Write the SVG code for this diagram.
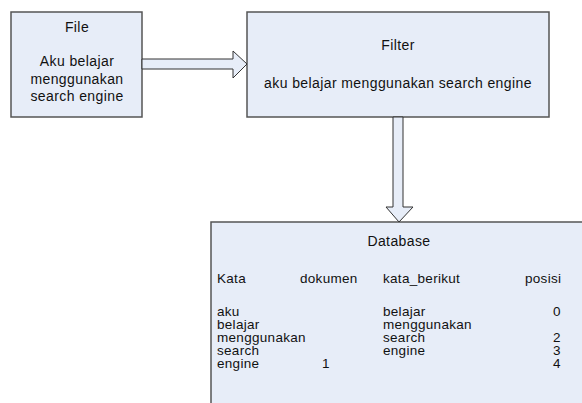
<svg xmlns="http://www.w3.org/2000/svg" width="582" height="403" viewBox="0 0 582 403">
<style>
.box{fill:#E7EDF8;stroke:#555;stroke-width:1.5}
.arrow{fill:#E7EDF8;stroke:#333;stroke-width:1}
text{font-family:"Liberation Sans",Arial,sans-serif;font-size:14px;letter-spacing:0.4px;fill:#111}
.c{text-anchor:middle}
.t{font-size:13.5px;letter-spacing:0.3px}
</style>
<rect width="582" height="403" fill="#fff"/>
<g id="file">
<rect class="box" x="11" y="12" width="131" height="105"/>
<text class="c" x="77" y="32">File</text>
<text class="c" x="77" y="66">Aku belajar</text>
<text class="c" x="77" y="84">menggunakan</text>
<text class="c" x="77" y="101">search engine</text>
</g>
<g id="filter">
<rect class="box" x="247" y="12" width="302" height="105"/>
<text class="c" x="398" y="50">Filter</text>
<text class="c" x="398" y="88">aku belajar menggunakan search engine</text>
</g>
<g id="database">
<rect class="box" x="211" y="222" width="380" height="200"/>
<text class="c" x="399" y="246">Database</text>
<text class="t" x="217" y="283">Kata</text>
<text class="t" x="300" y="283">dokumen</text>
<text class="t" x="383" y="283">kata_berikut</text>
<text class="t" x="525" y="283">posisi</text>
<text class="t" x="217" y="316">aku</text>
<text class="t" x="217" y="329">belajar</text>
<text class="t" x="217" y="342">menggunakan</text>
<text class="t" x="217" y="355">search</text>
<text class="t" x="217" y="368">engine</text>
<text class="t" x="383" y="316">belajar</text>
<text class="t" x="383" y="329">menggunakan</text>
<text class="t" x="383" y="342">search</text>
<text class="t" x="383" y="355">engine</text>
<text class="t" x="322" y="368">1</text>
<text class="t" x="553" y="316">0</text>
<text class="t" x="553" y="342">2</text>
<text class="t" x="553" y="355">3</text>
<text class="t" x="553" y="368">4</text>
</g>
<g id="connectors">
<path class="arrow" d="M142,59 H233 V51 L247,64 L233,78 V69 H142 Z"/>
<path class="arrow" d="M393,117 V207 H386 L399,222 L413,207 H403 V117 Z"/>
</g>
</svg>
